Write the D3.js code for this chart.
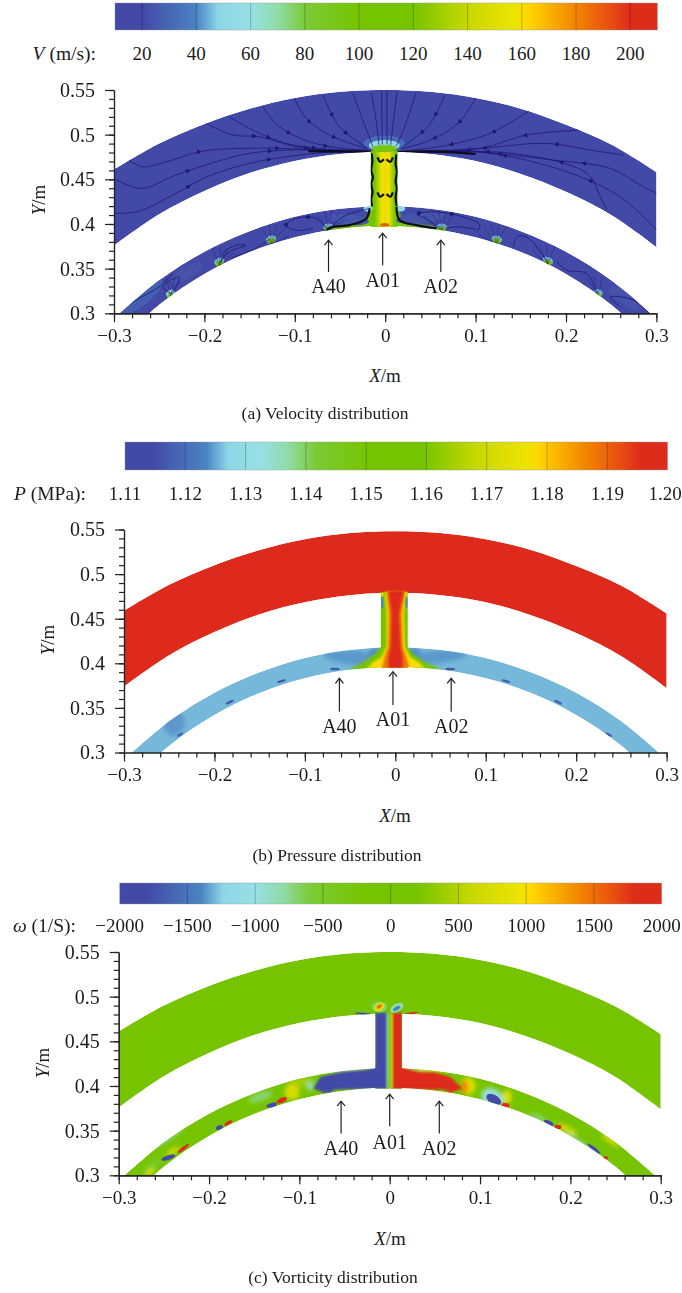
<!DOCTYPE html>
<html>
<head>
<meta charset="utf-8">
<script src="https://cdn.jsdelivr.net/npm/d3@7"></script>
<style>
html, body { margin: 0; padding: 0; background: #fff; }
svg { display: block; }
text { font-family: "Liberation Serif", serif; fill: #1c1c1c; }
</style>
</head>
<body>
<div id="chart"></div>
<script>
// Colour map
var mapStops = [0, 0.05, 0.15, 0.19, 0.25, 0.30, 0.35, 0.45, 0.55, 0.65, 0.74, 0.76, 0.85, 0.91, 0.95, 1];
var mapColors = ["#4349a7", "#4349a7", "#4a84c2", "#8dd6e8", "#98e0e4", "#90dca8", "#7ccb38", "#76c400",
    "#76c400", "#c8d800", "#eee400", "#ffd800", "#f28400", "#e85010", "#de2c1a", "#de2c1a"];

// Channel outlines, shared by the three panels
var ringX = [-0.3, -0.25, -0.2, -0.15, -0.1, -0.05, 0, 0.05, 0.1, 0.15, 0.2, 0.25, 0.3];
var topOuterY = [0.461, 0.49, 0.512, 0.529, 0.541, 0.548, 0.55, 0.548, 0.541, 0.529, 0.511, 0.489, 0.458];
var topInnerY = [0.376, 0.411, 0.437, 0.457, 0.4705, 0.4784, 0.481, 0.4784, 0.4705, 0.456, 0.436, 0.41, 0.374];
var lowOuterY = [0.294, 0.337, 0.369, 0.392, 0.408, 0.417, 0.42, 0.417, 0.408, 0.392, 0.369, 0.337, 0.294];
var lowInnerY = [0.2615, 0.3097, 0.3441, 0.3686, 0.3852, 0.3948, 0.398, 0.3948, 0.3852, 0.3686, 0.3441, 0.3097, 0.2615];
var neckX = [-0.016, 0.0137];
var neckY = [0.397, 0.482];

var xTicks = [-0.3, -0.2, -0.1, 0, 0.1, 0.2, 0.3];
var xTickLabels = ["\u22120.3", "\u22120.2", "\u22120.1", "0", "0.1", "0.2", "0.3"];
var yTicks = [0.3, 0.35, 0.4, 0.45, 0.5, 0.55];
var yTickLabels = ["0.3", "0.35", "0.4", "0.45", "0.5", "0.55"];

// Colour bar ticks
var vTicks = [20, 40, 60, 80, 100, 120, 140, 160, 180, 200];
var pTicks = [1.11, 1.12, 1.13, 1.14, 1.15, 1.16, 1.17, 1.18, 1.19, 1.2];
var wTicks = [-2000, -1500, -1000, -500, 0, 500, 1000, 1500, 2000];

// (a) velocity: bands in the neck [x0, x1, value]
var vBands = [[-0.016, 0.0137, 100], [-0.0095, 0.009, 135], [-0.0055, 0.0055, 158], [-0.0007, 0.0007, 168]];
var vPatches = [
    [100, [[-0.016, 0.42], [-0.019, 0.408], [-0.036, 0.4], [-0.06, 0.396], [-0.06, 0.392], [0.06, 0.392], [0.06, 0.396], [0.034, 0.4], [0.017, 0.408], [0.0137, 0.42]]]
];
// [x, y, rx, ry, value, rotation]
var vSpots = [
    [-0.001, 0.49, 0.023, 0.009, 32, 0], [-0.001, 0.488, 0.017, 0.006, 52, 0], [-0.001, 0.4845, 0.014, 0.004, 95, 0],
    [-0.0005, 0.3992, 0.005, 0.0018, 190, 0],
    [-0.019, 0.417, 0.005, 0.003, 50, 0], [0.017, 0.417, 0.005, 0.003, 50, 0],
    [-0.04, 0.405, 0.022, 0.006, 24, 6], [0.04, 0.407, 0.028, 0.006, 23, -6],
    [-0.0625, 0.3965, 0.006, 0.004, 45, 0], [-0.0625, 0.3945, 0.0045, 0.0028, 100, 0],
    [0.0625, 0.3965, 0.006, 0.004, 45, 0], [0.0625, 0.3945, 0.0045, 0.0028, 100, 0],
    [-0.1262, 0.383, 0.006, 0.004, 45, -15], [-0.1262, 0.3812, 0.0045, 0.0028, 105, -15],
    [0.1235, 0.383, 0.006, 0.004, 45, 15], [0.1235, 0.3812, 0.0045, 0.0028, 105, 15],
    [-0.1835, 0.358, 0.006, 0.004, 45, -25], [-0.1835, 0.356, 0.0045, 0.0028, 100, -25],
    [0.18, 0.359, 0.006, 0.004, 45, 25], [0.18, 0.357, 0.0045, 0.0028, 100, 25],
    [-0.2375, 0.322, 0.005, 0.004, 48, -30], [-0.2375, 0.32, 0.0035, 0.0028, 105, -30],
    [0.2355, 0.323, 0.005, 0.004, 45, 30], [0.2355, 0.321, 0.0035, 0.0028, 100, 30],
    [-0.27, 0.318, 0.03, 0.009, 27, -38], [-0.22, 0.345, 0.02, 0.007, 23, -30], [0.265, 0.317, 0.02, 0.007, 23, 35]
];
// Streamlines, the last point being downstream
var vStreams = [
    [[-0.3, 0.4118], [-0.2723, 0.4143], [-0.2353, 0.4323], [-0.1946, 0.4539], [-0.1503, 0.4678], [-0.1096, 0.4752], [-0.069, 0.4797], [-0.0172, 0.4808]],
    [[-0.3, 0.451], [-0.2704, 0.4398], [-0.2316, 0.4547], [-0.1872, 0.4696], [-0.1503, 0.479], [-0.1096, 0.4827], [-0.0652, 0.4827], [-0.0172, 0.4816]],
    [[-0.2833, 0.4715], [-0.2686, 0.464], [-0.2445, 0.4689], [-0.2021, 0.4816], [-0.1577, 0.4846], [-0.1133, 0.4846], [-0.0615, 0.482], [-0.0172, 0.4808]],
    [[-0.1983, 0.5127], [-0.1688, 0.4996], [-0.1392, 0.4977], [-0.0985, 0.4864], [-0.0615, 0.4827], [-0.0172, 0.4816]],
    [[-0.1725, 0.5201], [-0.1466, 0.5052], [-0.1096, 0.4902], [-0.0652, 0.4839], [-0.018, 0.482]],
    [[-0.1355, 0.5313], [-0.117, 0.5089], [-0.0837, 0.492], [-0.0468, 0.4846], [-0.0154, 0.4827]],
    [[-0.1004, 0.5407], [-0.0874, 0.5183], [-0.0615, 0.4996], [-0.0209, 0.4846]],
    [[-0.069, 0.5444], [-0.0505, 0.5089], [-0.0191, 0.4846]],
    [[-0.0357, 0.5463], [-0.0227, 0.5108], [-0.0135, 0.4864]],
    [[-0.0153, 0.547], [-0.0098, 0.5145], [-0.0069, 0.4883]],
    [[-0.004, 0.549], [-0.0032, 0.489]],
    [[0.3007, 0.4342], [0.2859, 0.4416], [0.249, 0.4622], [0.1861, 0.4715], [0.0974, 0.4808], [0.0161, 0.479]],
    [[0.3007, 0.393], [0.26, 0.4304], [0.2009, 0.4584], [0.1048, 0.4808], [0.0161, 0.4797]],
    [[0.2453, 0.4155], [0.2379, 0.4304], [0.2231, 0.4566], [0.1418, 0.479], [0.0161, 0.479]],
    [[0.2638, 0.4771], [0.2268, 0.4827], [0.1787, 0.4902], [0.1048, 0.4846], [0.0161, 0.4797]],
    [[0.2157, 0.5052], [0.1566, 0.4996], [0.1048, 0.4846], [0.0161, 0.479]],
    [[0.16, 0.527], [0.1159, 0.5014], [0.0678, 0.488], [0.0161, 0.481]],
    [[0.1, 0.5405], [0.08, 0.512], [0.05, 0.494], [0.018, 0.484]],
    [[0.066, 0.5445], [0.048, 0.51], [0.017, 0.485]],
    [[0.034, 0.5465], [0.022, 0.51], [0.012, 0.487]],
    [[0.013, 0.548], [0.009, 0.515], [0.006, 0.488]],
    [[0.002, 0.549], [0.002, 0.489]],
    [[-0.0652, 0.395], [-0.0763, 0.4062], [-0.0985, 0.4062], [-0.1096, 0.3987], [-0.0985, 0.393], [-0.0801, 0.395]],
    [[-0.06, 0.395], [-0.05, 0.406], [-0.035, 0.413], [-0.018, 0.417]],
    [[-0.1835, 0.3557], [-0.1725, 0.3687], [-0.1539, 0.3762], [-0.165, 0.3762], [-0.178, 0.3687], [-0.1815, 0.3575]],
    [[-0.2371, 0.3221], [-0.2464, 0.3295], [-0.2279, 0.3407], [-0.2316, 0.3295], [-0.2371, 0.3221]],
    [[-0.2908, 0.3034], [-0.2759, 0.3146], [-0.2501, 0.3295], [-0.2353, 0.3445]],
    [[-0.17, 0.362], [-0.145, 0.372], [-0.128, 0.383]],
    [[0.0604, 0.395], [0.0457, 0.4062], [0.0346, 0.411], [0.0531, 0.4136], [0.0863, 0.408], [0.1048, 0.3987], [0.1011, 0.3911]],
    [[0.066, 0.395], [0.0789, 0.3968], [0.1011, 0.3941]],
    [[0.1418, 0.3743], [0.1455, 0.3855], [0.1566, 0.3855], [0.1714, 0.3687], [0.1806, 0.3557]],
    [[0.1898, 0.3575], [0.2009, 0.3482], [0.2231, 0.3445], [0.2342, 0.3221]],
    [[0.26, 0.307], [0.249, 0.3183], [0.2749, 0.3146], [0.2915, 0.3003]]
];
var vThick = [
    [[-0.085, 0.4815], [-0.05, 0.4812], [-0.016, 0.4805]],
    [[0.0137, 0.4805], [0.05, 0.4812], [0.1, 0.4785]],
    [[-0.0172, 0.4174], [-0.0208, 0.4062], [-0.0394, 0.3987], [-0.0579, 0.3968], [-0.0652, 0.393]],
    [[0.0124, 0.4192], [0.0161, 0.4043], [0.0346, 0.3987], [0.0568, 0.395]],
    [[-0.015, 0.479], [-0.0142, 0.47], [-0.0155, 0.46], [-0.0135, 0.452], [-0.0155, 0.445], [-0.014, 0.436], [-0.0155, 0.428], [-0.0145, 0.42]],
    [[0.0125, 0.478], [0.0115, 0.468], [0.013, 0.458], [0.0115, 0.448], [0.013, 0.44], [0.0115, 0.43], [0.0128, 0.42]],
    [[-0.0085, 0.4745], [-0.0055, 0.4695], [-0.0015, 0.4725]],
    [[0.0015, 0.4725], [0.0055, 0.4695], [0.0085, 0.4745]],
    [[-0.0085, 0.4355], [-0.0055, 0.4305], [-0.0015, 0.4335]],
    [[0.0015, 0.4335], [0.0055, 0.4305], [0.0085, 0.4355]]
];
var jetX = [-0.2375, -0.1835, -0.1262, -0.0625, 0.0625, 0.1235, 0.18, 0.2355];
var fanTips = [[-0.016, 0.015], [-0.008, 0.02], [0, 0.022], [0.008, 0.02], [0.016, 0.015]];

// (b) pressure
var pPatches = [
    [1.155, [[-0.016, 0.481], [0.0137, 0.481], [0.0137, 0.4206], [0.019, 0.413], [0.033, 0.403], [0.052, 0.395], [-0.052, 0.395], [-0.037, 0.402], [-0.023, 0.412], [-0.016, 0.4206]]],
    [1.178, [[-0.0115, 0.482], [0.0126, 0.482], [0.0096, 0.4581], [0.0107, 0.4206], [0.0163, 0.4094], [0.0274, 0.402], [0.033, 0.395], [-0.032, 0.395], [-0.0262, 0.402], [-0.0152, 0.4094], [-0.0096, 0.4206], [-0.0096, 0.4581]]],
    [1.188, [[-0.0096, 0.482], [0.0107, 0.482], [0.007, 0.4581], [0.0081, 0.4206], [0.0126, 0.408], [0.0163, 0.395], [-0.0152, 0.395], [-0.0122, 0.408], [-0.0078, 0.4206], [-0.007, 0.4581]]],
    [1.2, [[-0.0078, 0.483], [0.0096, 0.483], [0.0041, 0.4581], [0.0059, 0.4206], [0.0081, 0.408], [0.0081, 0.395], [-0.0078, 0.395], [-0.0078, 0.408], [-0.0052, 0.4206], [-0.0041, 0.4581]]]
];
var pUnder = [
    [-0.045, 0.408, 0.034, 0.008, 1.1244, 6], [0.045, 0.409, 0.034, 0.007, 1.1244, -6],
    [-0.022, 0.414, 0.008, 0.005, 1.1238, 0], [0.02, 0.414, 0.008, 0.005, 1.1238, 0],
    [-0.245, 0.335, 0.012, 0.014, 1.1244, 0]
];
var pSpots = [
    [-0.0145, 0.47, 0.0013, 0.007, 1.123, 0], [0.0125, 0.47, 0.0013, 0.007, 1.123, 0],
    [-0.0145, 0.479, 0.002, 0.002, 1.17, 0], [0.0125, 0.479, 0.002, 0.002, 1.17, 0],
    [-0.0668, 0.3955, 0.0055, 0.0014, 1.117, 0], [0.0608, 0.3955, 0.0055, 0.0014, 1.117, 0],
    [-0.126, 0.382, 0.005, 0.0014, 1.117, -15], [0.1225, 0.382, 0.005, 0.0014, 1.118, 15],
    [-0.1832, 0.3585, 0.005, 0.0014, 1.117, -25], [0.18, 0.3585, 0.005, 0.0014, 1.118, 25],
    [-0.238, 0.322, 0.004, 0.0014, 1.118, -30], [0.236, 0.322, 0.004, 0.0014, 1.118, 30]
];

// (c) vorticity
var wBands = [[-0.0035, -0.0015, -800], [-0.0015, 0.0015, 0], [0.0015, 0.0035, 700]];
var wPatches = [
    [-2000, [[-0.0159, 0.482], [-0.0159, 0.4214], [-0.0233, 0.4185], [-0.0547, 0.4155], [-0.0769, 0.41], [-0.0843, 0.3972], [-0.0732, 0.3923], [-0.0658, 0.3923], [-0.0603, 0.3961], [-0.0288, 0.397], [-0.0022, 0.397], [-0.0022, 0.482]]],
    [2000, [[0.0022, 0.482], [0.0137, 0.482], [0.0137, 0.4214], [0.0211, 0.4185], [0.034, 0.4155], [0.0488, 0.4155], [0.0673, 0.41], [0.0802, 0.3972], [0.0673, 0.3923], [0.0599, 0.3961], [0.034, 0.3961], [0.0022, 0.397]]]
];
var wUnder = [
    [-0.055, 0.4185, 0.036, 0.0018, 800, 6], [-0.05, 0.4165, 0.038, 0.002, -900, 6],
    [-0.088, 0.401, 0.004, 0.006, -900, 0],
    [0.05, 0.418, 0.03, 0.002, 900, -6], [0.03, 0.4195, 0.022, 0.0012, -800, -3],
    [0.087, 0.4, 0.008, 0.01, 800, 0], [0.083, 0.399, 0.004, 0.007, 1400, 0],
    [-0.1, 0.404, 0.012, 0.006, 400, -10], [-0.108, 0.3934, 0.008, 0.009, 750, -20],
    [-0.143, 0.3878, 0.014, 0.005, -700, -20], [-0.245, 0.344, 0.02, 0.005, -700, -35],
    [-0.263, 0.31, 0.012, 0.004, -600, -40], [-0.24, 0.327, 0.008, 0.003, 700, -30],
    [-0.2654, 0.3037, 0.006, 0.003, 800, -40],
    [0.1135, 0.387, 0.013, 0.01, -950, 30], [0.13, 0.3878, 0.005, 0.008, 800, 0],
    [0.1965, 0.3512, 0.012, 0.004, 650, 28], [0.2445, 0.3392, 0.012, 0.003, 700, 35],
    [0.165, 0.365, 0.012, 0.0018, -800, 25], [0.21, 0.337, 0.018, 0.0016, -950, 35]
];
var wSpots = [
    [-0.0115, 0.4885, 0.0085, 0.006, -700, 0], [-0.0115, 0.4885, 0.006, 0.0042, 800, -30], [-0.0115, 0.489, 0.0032, 0.002, 1500, -30],
    [0.0078, 0.4875, 0.008, 0.0045, -800, -30], [0.0078, 0.4869, 0.0045, 0.002, -1400, -30],
    [-0.027, 0.4805, 0.012, 0.0012, -1800, 7], [0.0225, 0.481, 0.009, 0.0012, 1900, -10],
    [-0.1194, 0.3841, 0.006, 0.0028, 2000, -25], [-0.1305, 0.3785, 0.006, 0.0026, -2000, -15],
    [-0.1786, 0.3586, 0.005, 0.0018, 2000, -30], [-0.1885, 0.3535, 0.004, 0.0024, -2000, -25],
    [-0.2285, 0.33, 0.008, 0.0018, 1900, -38], [-0.2451, 0.3198, 0.008, 0.0025, -2000, -18],
    [0.1151, 0.3849, 0.009, 0.005, -2000, 30], [0.1281, 0.3785, 0.0045, 0.0025, 2000, 0],
    [0.1761, 0.3586, 0.006, 0.0025, -2000, 28], [0.1861, 0.3542, 0.004, 0.0025, 2000, 0],
    [0.226, 0.3299, 0.009, 0.0018, -2000, 38], [0.239, 0.3194, 0.003, 0.0018, 2000, 0]
];

// Arrow notes [label, x, tip y, tail y, text y]
var vNotes = [["A40", -0.0627, 0.3818, 0.3463, 0.3224], ["A01", -0.0028, 0.3897, 0.3538, 0.3295], ["A02", 0.0615, 0.3818, 0.3463, 0.3224]];
var pNotes = [["A40", -0.0618, 0.3832, 0.3458, 0.3219], ["A01", -0.0026, 0.3906, 0.3533, 0.3301], ["A02", 0.0618, 0.3832, 0.3458, 0.3219]];
var wNotes = [["A40", -0.0538, 0.383, 0.3467, 0.3224], ["A01", 0, 0.3908, 0.3549, 0.3299], ["A02", 0.0549, 0.383, 0.3467, 0.3224]];

var panels = [
    {id: "a", x0: 114, x1: 656.4, yTop: 90, yBot: 313.3, base: 10, span: 200, ticks: vTicks, fmt: d => d,
     barTop: 3, barH: 27, barLabelY: 53, keyEnd: 96, keyItalic: "V", keyRest: " (m/s):",
     topValue: 10, lowValue: 10, neckValue: 100, bands: vBands, patches: vPatches, under: [], spots: vSpots, notes: vNotes,
     shift: 0, xLabelX: 385, xLabelY: 375, yLabelX: 38, yLabelY: 200, caption: "(a) Velocity distribution", captionX: 325, captionY: 413},
    {id: "b", x0: 124, x1: 666.6, yTop: 529.5, yBot: 752.5, base: 1.11, span: 0.09, ticks: pTicks, fmt: d => d.toFixed(2),
     barTop: 442, barH: 28, barLabelY: 493, keyEnd: 86, keyItalic: "P", keyRest: " (MPa):",
     topValue: 1.2, lowValue: 1.1258, neckValue: 1.155, bands: [], patches: pPatches, under: pUnder, spots: pSpots, notes: pNotes,
     shift: -0.002, xLabelX: 395, xLabelY: 815, yLabelX: 47, yLabelY: 640, caption: "(b) Pressure distribution", captionX: 337, captionY: 855},
    {id: "c", x0: 118.7, x1: 660.7, yTop: 952, yBot: 1175.3, base: -2000, span: 4000, ticks: wTicks, fmt: d => d < 0 ? "\u2212" + (-d) : d,
     barTop: 883, barH: 21, barLabelY: 925, keyEnd: 76, keyItalic: "\u03c9", keyRest: " (1/S):",
     topValue: 0, lowValue: 0, neckValue: 0, bands: wBands, patches: wPatches, under: wUnder, spots: wSpots, notes: wNotes,
     shift: 0, xLabelX: 390, xLabelY: 1238, yLabelX: 42, yLabelY: 1063, caption: "(c) Vorticity distribution", captionX: 333, captionY: 1277}
];

var width = 682, height = 1293;
var svg = d3.select("#chart").append("svg").attr("width", width).attr("height", height);
var defs = svg.append("defs");

[["soft", 0.5], ["blurS", 0.6], ["blur1", 0.9], ["blur2", 2]].forEach(function(f) {
    defs.append("filter").attr("id", f[0])
	.attr("x", "-30%").attr("y", "-30%").attr("width", "160%").attr("height", "160%")
	.append("feGaussianBlur").attr("stdDeviation", f[1]);
});

var mapColor = d3.scaleLinear().domain(mapStops).range(mapColors).clamp(true);

var barGrad = defs.append("linearGradient").attr("id", "barGrad");
barGrad.selectAll("stop").data(mapStops).enter().append("stop")
    .attr("offset", d => d * 100 + "%")
    .attr("stop-color", (d, i) => mapColors[i]);

var smooth = d3.line().curve(d3.curveCatmullRom.alpha(0.5));

function drawColourBar(g, p, x, color) {
    g.append("rect")
	.attr("x", p.x0 + 1).attr("y", p.barTop)
	.attr("width", p.x1 - p.x0).attr("height", p.barH)
	.attr("fill", "url(#barGrad)")
	.attr("stroke", "#9a9a9a").attr("stroke-opacity", 0.5).attr("stroke-width", 0.8);

    g.selectAll(".sep").data(p.ticks.filter(d => x(d) > p.x0 + 5 && x(d) < p.x1 - 5)).enter().append("line")
	.attr("class", "sep")
	.attr("x1", d => x(d)).attr("x2", d => x(d))
	.attr("y1", p.barTop).attr("y2", p.barTop + p.barH)
	.attr("stroke", d => d3.color(color(d)).darker(0.7))
	.attr("stroke-width", 1.1);

    g.selectAll(".barlabel").data(p.ticks).enter().append("text")
	.attr("class", "barlabel")
	.attr("x", d => Math.min(x(d), width - 17))
	.attr("y", p.barLabelY + 6.5)
	.attr("text-anchor", "middle")
	.attr("font-size", 19)
	.text(p.fmt);

    var key = g.append("text").attr("x", p.keyEnd).attr("y", p.barLabelY + 6.5)
	.attr("text-anchor", "end").attr("font-size", 19.5);
    key.append("tspan").attr("font-style", "italic").text(p.keyItalic);
    key.append("tspan").text(p.keyRest);
}

function drawField(g, p, x, y, color) {
    // y is moved a little for the panel whose picture sits off its axis
    var fy = d => y(d + p.shift);
    var px = d => [x(d[0]), fy(d[1])];

    function ringPath(upper, lower) {
	var a = ringX.map((v, i) => px([v, upper[i]]));
	var b = ringX.map((v, i) => px([v, lower[i]])).reverse();
	return smooth(a) + "L" + smooth(b).slice(1) + "Z";
    }
    var topPath = ringPath(topOuterY, topInnerY);
    var lowPath = ringPath(lowOuterY, lowInnerY);
    var neckPath = d3.line()([px([neckX[0], neckY[1]]), px([neckX[1], neckY[1]]), px([neckX[1], neckY[0]]), px([neckX[0], neckY[0]])]) + "Z";

    var clip = defs.append("clipPath").attr("id", "field" + p.id);
    [topPath, lowPath, neckPath].forEach(d => clip.append("path").attr("d", d));
    var frame = defs.append("clipPath").attr("id", "frame" + p.id);
    frame.append("rect").attr("x", x(-0.3)).attr("y", y(0.56))
	.attr("width", x(0.3) - x(-0.3)).attr("height", y(0.3) - y(0.56));

    var outer = g.append("g").attr("clip-path", "url(#frame" + p.id + ")")
	.append("g").attr("filter", "url(#soft)");
    var inner = outer.append("g").attr("clip-path", "url(#field" + p.id + ")");

    inner.append("path").attr("d", topPath).attr("fill", color(p.topValue));
    inner.append("path").attr("d", lowPath).attr("fill", color(p.lowValue));
    inner.append("path").attr("d", neckPath).attr("fill", color(p.neckValue));

    function addSpots(list, blur) {
	inner.append("g").attr("filter", "url(#" + blur + ")")
	    .selectAll("ellipse").data(list).enter().append("ellipse")
	    .attr("cx", d => x(d[0])).attr("cy", d => fy(d[1]))
	    .attr("rx", d => x(d[2]) - x(0)).attr("ry", d => y(0) - y(d[3]))
	    .attr("transform", d => "rotate(" + d[5] + " " + x(d[0]) + " " + fy(d[1]) + ")")
	    .attr("fill", d => color(d[4]));
    }

    addSpots(p.under, "blur2");

    inner.append("g").selectAll("path").data(p.patches).enter().append("path")
	.attr("d", d => d3.line()(d[1].map(px)) + "Z")
	.attr("fill", d => color(d[0]))
	.attr("filter", "url(#blur1)");

    inner.append("g").attr("filter", "url(#blur1)")
	.selectAll("rect").data(p.bands).enter().append("rect")
	.attr("x", d => x(d[0])).attr("width", d => x(d[1]) - x(d[0]))
	.attr("y", fy(neckY[1])).attr("height", fy(neckY[0]) - fy(neckY[1]))
	.attr("fill", d => color(d[2]));

    addSpots(p.spots, "blurS");

    if (p.id == "a") {
	var streamG = inner.append("g");
	var thin = streamG.selectAll(".thin").data(vStreams).enter().append("path")
	    .attr("class", "thin")
	    .attr("d", d => smooth(d.map(px)))
	    .attr("fill", "none").attr("stroke", "#1e1670").attr("stroke-opacity", 0.75).attr("stroke-width", 1);

	// small fan above each jet in the lower channel
	jetX.forEach(function(jx) {
	    var turn = -jx / 0.4;
	    var jy = Math.sqrt(0.398 * 0.398 - jx * jx);
	    fanTips.forEach(function(t) {
		var tx = jx + t[0] * Math.cos(turn) + t[1] * Math.sin(turn);
		var ty = jy - t[0] * Math.sin(turn) + t[1] * Math.cos(turn);
		streamG.append("path").attr("d", d3.line()([px([jx, jy]), px([tx, ty])]))
		    .attr("stroke", "#1e1670").attr("stroke-opacity", 0.45).attr("stroke-width", 0.8);
	    });
	});

	streamG.selectAll(".thick").data(vThick).enter().append("path")
	    .attr("class", "thick")
	    .attr("d", d => smooth(d.map(px)))
	    .attr("fill", "none").attr("stroke", "#0a0a1e").attr("stroke-width", 2.2);

	// arrow heads along the long lines
	thin.each(function() {
	    var len = this.getTotalLength();
	    if (len < 70) return;
	    var node = this;
	    [0.3, 0.62].forEach(function(f) {
		var a = node.getPointAtLength(len * f);
		var b = node.getPointAtLength(len * f + 1);
		var ang = Math.atan2(b.y - a.y, b.x - a.x) * 180 / Math.PI + 90;
		streamG.append("path")
		    .attr("d", d3.symbol().type(d3.symbolTriangle).size(11))
		    .attr("transform", "translate(" + a.x + "," + a.y + ") rotate(" + ang + ")")
		    .attr("fill", "#1e1670");
	    });
	});
    }
}

function drawAxes(g, p, x, y) {
    var xMinor = d3.range(-30, 31, 2).map(d => d / 100);
    var yMinor = d3.range(30, 56, 1).map(d => d / 100);

    var ax = g.append("g").attr("transform", "translate(0," + y(0.3) + ")");
    ax.call(d3.axisBottom(x).tickValues(xMinor).tickSize(5).tickSizeOuter(0).tickFormat(""));
    ax.append("g").call(d3.axisBottom(x).tickValues(xTicks).tickSize(9).tickSizeOuter(0).tickPadding(6)
	.tickFormat((d, i) => xTickLabels[i]));

    var ay = g.append("g").attr("transform", "translate(" + x(-0.3) + ",0)");
    ay.call(d3.axisLeft(y).tickValues(yMinor).tickSize(5).tickSizeOuter(0).tickFormat(""));
    ay.append("g").call(d3.axisLeft(y).tickValues(yTicks).tickSize(9).tickSizeOuter(0).tickPadding(10)
	.tickFormat((d, i) => yTickLabels[i]));

    g.selectAll(".domain, .tick line").attr("stroke", "#222").attr("stroke-width", 1.2);
    g.selectAll(".tick text").attr("font-size", 19).attr("font-family", "Liberation Serif").attr("fill", "#1c1c1c");
    ay.selectAll(".tick text").attr("font-size", 20);

    var xl = g.append("text").attr("x", p.xLabelX).attr("y", p.xLabelY + 6.5)
	.attr("text-anchor", "middle").attr("font-size", 19);
    xl.append("tspan").attr("font-style", "italic").text("X");
    xl.append("tspan").text("/m");

    var yl = g.append("text")
	.attr("transform", "translate(" + (p.yLabelX + 6.5) + "," + p.yLabelY + ") rotate(-90)")
	.attr("text-anchor", "middle").attr("font-size", 19);
    yl.append("tspan").attr("font-style", "italic").text("Y");
    yl.append("tspan").text("/m");

    g.append("text").attr("x", p.captionX).attr("y", p.captionY + 5.5)
	.attr("text-anchor", "middle").attr("font-size", 17.5).text(p.caption);
}

function drawNotes(g, p, x, y) {
    var notes = g.selectAll(".note").data(p.notes).enter().append("g").attr("class", "note");
    notes.append("line")
	.attr("x1", d => x(d[1])).attr("x2", d => x(d[1]))
	.attr("y1", d => y(d[2])).attr("y2", d => y(d[3]))
	.attr("stroke", "#222").attr("stroke-width", 1.2);
    notes.append("path")
	.attr("d", d => d3.line()([[x(d[1]) - 4, y(d[2]) + 5], [x(d[1]), y(d[2])], [x(d[1]) + 4, y(d[2]) + 5]]))
	.attr("fill", "none").attr("stroke", "#222").attr("stroke-width", 1.2);
    notes.append("text")
	.attr("x", d => x(d[1])).attr("y", d => y(d[4]))
	.attr("text-anchor", "middle").attr("font-size", 20)
	.text(d => d[0]);
}

panels.forEach(function(p) {
    var g = svg.append("g").attr("class", "panel");
    var x = d3.scaleLinear().domain([-0.3, 0.3]).range([p.x0, p.x1]);
    var y = d3.scaleLinear().domain([0.3, 0.55]).range([p.yBot, p.yTop]);
    var barX = d3.scaleLinear().domain([p.base, p.base + p.span]).range([p.x0 + 1, p.x1 + 1]);
    // value to colour through the normalised map
    var color = v => mapColor((v - p.base) / p.span);

    drawColourBar(g, p, barX, color);
    drawField(g, p, x, y, color);
    drawAxes(g, p, x, y);
    drawNotes(g, p, x, y);
});
</script>
</body>
</html>
